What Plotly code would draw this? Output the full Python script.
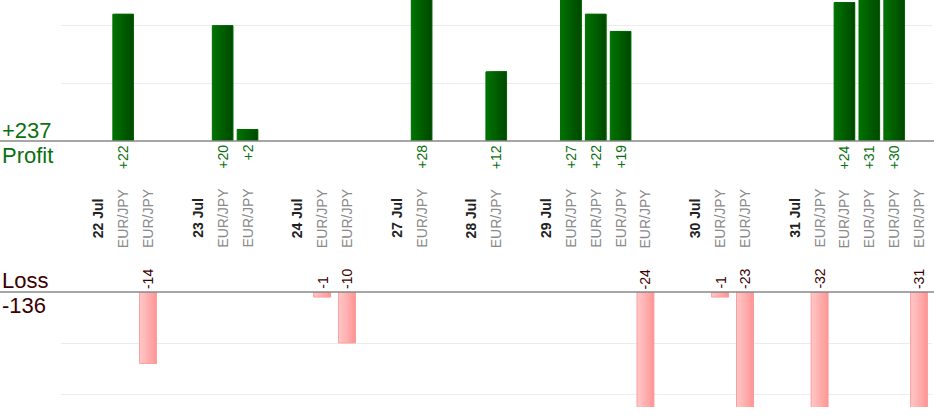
import plotly.graph_objects as go

# one slot per column, blank slots separate the days
slot_labels = ["", "22 Jul", "EUR/JPY", "EUR/JPY", "",
               "23 Jul", "EUR/JPY", "EUR/JPY", "",
               "24 Jul", "EUR/JPY", "EUR/JPY", "",
               "27 Jul", "EUR/JPY", "",
               "28 Jul", "EUR/JPY", "",
               "29 Jul", "EUR/JPY", "EUR/JPY", "EUR/JPY", "EUR/JPY", "",
               "30 Jul", "EUR/JPY", "EUR/JPY", "",
               "31 Jul", "EUR/JPY", "EUR/JPY", "EUR/JPY", "EUR/JPY", "EUR/JPY"]
is_date = [("Jul" in s) for s in slot_labels]

profit = [None, None, 22, None, None,
          None, 20, 2, None,
          None, None, None, None,
          None, 28, None,
          None, 12, None,
          None, 27, 22, 19, None, None,
          None, None, None, None,
          None, None, 24, 31, 30, None]
loss = [None, None, None, -14, None,
        None, None, None, None,
        None, -1, -10, None,
        None, None, None,
        None, None, None,
        None, None, None, None, -24, None,
        None, -1, -23, None,
        None, -32, None, None, None, -31]

total_profit = sum(v for v in profit if v)
total_loss = sum(v for v in loss if v)

GREEN_TXT = "#0a7010"
LOSS_TXT = "#3c0000"
xs = list(range(len(slot_labels)))


def mix(c1, c2, t):
    return "rgb(%d,%d,%d)" % tuple(round(a + (b - a) * t) for a, b in zip(c1, c2))


def gradient_bars(fig, y, width, c_left, c_right, line_color, yaxis, strips=10):
    # fake a left-to-right gradient: each strip runs to the right edge
    # and covers the previous one, so no seams show
    for k in range(strips):
        start = -width / 2 + k * width / strips
        fig.add_trace(go.Bar(
            x=xs, y=y, width=width / 2 - start, offset=start,
            marker=dict(color=mix(c_left, c_right, (k + 0.5) / strips), line_width=0),
            yaxis=yaxis, hoverinfo="skip", showlegend=False))
    fig.add_trace(go.Bar(
        x=xs, y=y, width=width, offset=-width / 2,
        marker=dict(color="rgba(0,0,0,0)", line=dict(color=line_color, width=1)),
        yaxis=yaxis, showlegend=False))


fig = go.Figure()
gradient_bars(fig, profit, 0.83, (0, 116, 0), (0, 72, 0), "#006a00", "y")
gradient_bars(fig, loss, 0.68, (255, 200, 200), (255, 150, 150), "#ff9c9c", "y2")

ann = []
for i, lab in enumerate(slot_labels):
    if lab:
        ann.append(dict(
            x=i, y=1 - 218 / 420, xref="x", yref="paper", textangle=-90,
            text="<b>%s</b>" % lab if is_date[i] else lab, showarrow=False,
            font=dict(size=14, color="#222222" if is_date[i] else "#8a8a8a"),
            xanchor="center", yanchor="middle"))
    if profit[i]:
        ann.append(dict(
            x=i, y=1 - 143 / 420, xref="x", yref="paper", textangle=-90,
            text="+%d" % profit[i], showarrow=False,
            font=dict(size=14, color=GREEN_TXT), xanchor="center", yanchor="top"))
    if loss[i]:
        ann.append(dict(
            x=i, y=1 - 291 / 420, xref="x", yref="paper", textangle=-90,
            text="%d" % loss[i], showarrow=False,
            font=dict(size=14, color=LOSS_TXT), xanchor="center", yanchor="bottom"))

side = [("+%d" % total_profit, 145, GREEN_TXT, "bottom"),
        ("Profit", 141, GREEN_TXT, "top"),
        ("Loss", 295, LOSS_TXT, "bottom"),
        ("%d" % total_loss, 291, LOSS_TXT, "top")]
for txt, ypx, col, anchor in side:
    ann.append(dict(x=0, y=1 - ypx / 420, xref="paper", yref="paper", text=txt,
                    showarrow=False, xanchor="left", yanchor=anchor,
                    font=dict(size=22, color=col)))

fig.update_layout(
    width=934, height=420, margin=dict(l=0, r=0, t=0, b=0),
    paper_bgcolor="white", plot_bgcolor="white",
    font=dict(family="Liberation Sans, Arial, sans-serif"),
    barmode="overlay", annotations=ann,
    xaxis=dict(domain=[61 / 934, 931.5 / 934], range=[-0.5, len(xs) - 0.5],
               showgrid=False, showticklabels=False, zeroline=False, ticks=""),
    yaxis=dict(domain=[1 - 141 / 420, 1], range=[0, 24.45], dtick=10,
               showgrid=True, gridcolor="#ececec", showticklabels=False,
               zeroline=False, fixedrange=True),
    yaxis2=dict(domain=[13 / 420, 1 - 292 / 420], range=[-22.55, 0], dtick=10,
                showgrid=True, gridcolor="#ececec", showticklabels=False,
                zeroline=False, fixedrange=True),
    shapes=[
        dict(type="line", xref="paper", yref="paper", x0=0, x1=1,
             y0=1 - 141 / 420, y1=1 - 141 / 420, line=dict(color="#888888", width=1.5)),
        dict(type="line", xref="paper", yref="paper", x0=0, x1=1,
             y0=1 - 292 / 420, y1=1 - 292 / 420, line=dict(color="#888888", width=1.5)),
    ],
)

# the page body has a default margin; drop it so the chart sits at 0,0
fig.write_html("out.html", config={"displayModeBar": False},
               post_script="document.body.style.margin='0';")
